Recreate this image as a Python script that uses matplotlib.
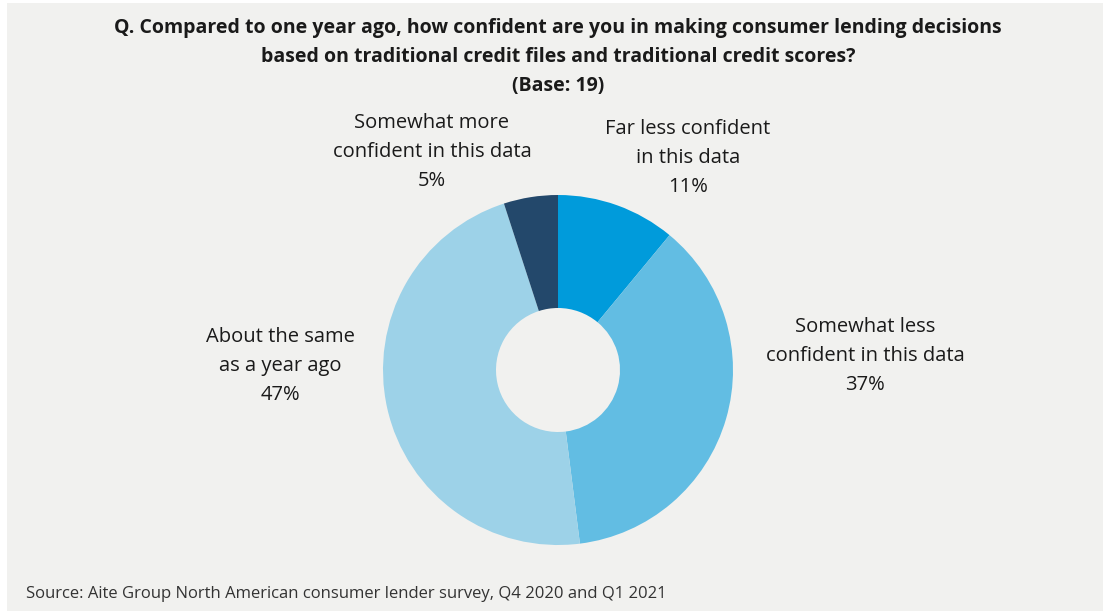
import matplotlib.pyplot as plt
from matplotlib.patches import Rectangle

# survey answers (share of respondents, %)
answers = ["Far less confident\nin this data",
           "Somewhat less\nconfident in this data",
           "About the same\nas a year ago",
           "Somewhat more\nconfident in this data"]
shares = [11, 37, 47, 5]
colors = ["#009BDB", "#62BDE3", "#9DD2E8", "#23486B"]

title = ("Q. Compared to one year ago, how confident are you in making consumer lending decisions\n"
         "based on traditional credit files and traditional credit scores?\n(Base: 19)")
source = "Source: Aite Group North American consumer lender survey, Q4 2020 and Q1 2021"

W, H = 1103, 611
plt.rcParams['font.family'] = ['Open Sans', 'DejaVu Sans']

fig = plt.figure(figsize=(W / 100, H / 100), dpi=100, facecolor="white")
fig.patches.append(Rectangle((7 / W, 0), 1 - 7 / W, 1 - 3 / H, transform=fig.transFigure,
                             facecolor="#F1F1EF", edgecolor="none", zorder=-5))

# donut: centre (558, 370) px, outer radius 175 px
cx, cy, r = 558, 370, 175
ax = fig.add_axes([(cx - r) / W, (H - cy - r) / H, 2 * r / W, 2 * r / H])
ax.set_zorder(2)
ax.pie(shares, colors=colors, startangle=90, counterclock=False, radius=1,
       wedgeprops=dict(width=1 - 62 / 175, edgecolor="none"))
ax.set_xlim(-1, 1)
ax.set_ylim(-1, 1)
ax.set_aspect("equal")
ax.axis("off")

# label positions (pixel coords of text centre)
label_pos = [(688, 158), (865, 356), (280, 366), (432, 152)]
for name, val, (x, y) in zip(answers, shares, label_pos):
    fig.text(x / W, 1 - y / H, f"{name}\n{val}%", ha="center", va="center",
             fontsize=14.5, color="#1a1a1a", linespacing=1.6)

fig.text(558 / W, 1 - 57 / H, title, ha="center", va="center", fontsize=14,
         fontweight="bold", color="#1a1a1a", linespacing=1.6)
fig.text(26 / W, 1 - 594 / H, source, ha="left", va="center", fontsize=12, color="#333333")

fig.savefig("out.png", dpi=100, facecolor=fig.get_facecolor())
